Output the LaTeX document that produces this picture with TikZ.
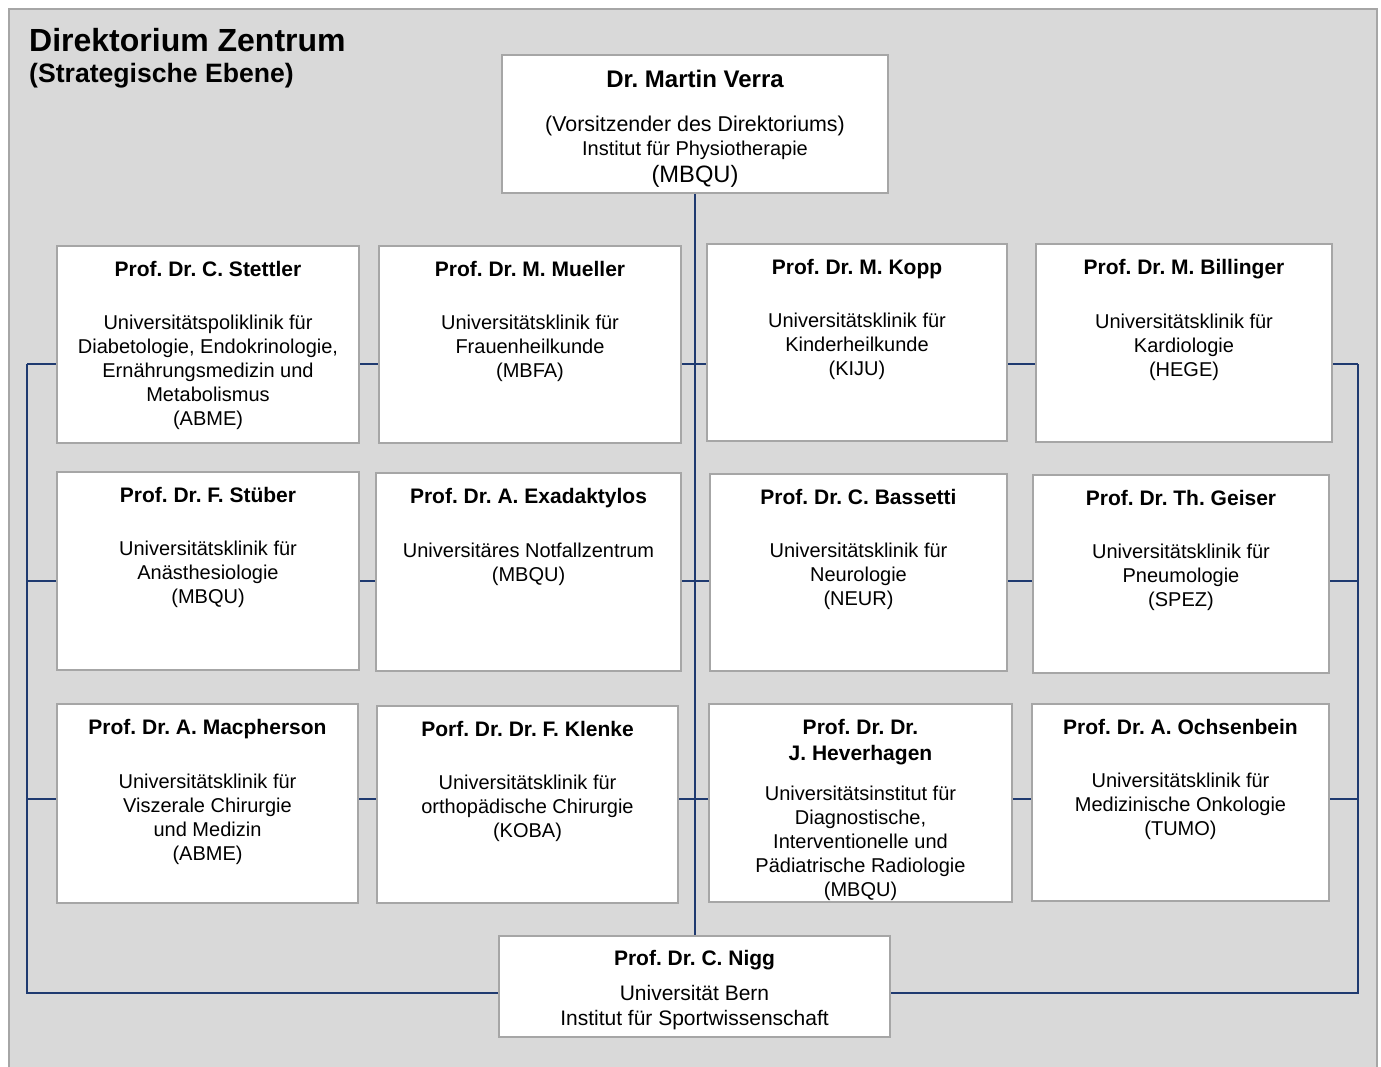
\documentclass[tikz,border=0pt]{standalone}
\usepackage{fontspec}
\setmainfont{Liberation Sans}
\frenchspacing
\definecolor{panelgray}{HTML}{D9D9D9}
\definecolor{framegray}{HTML}{A6A6A6}
\definecolor{linkblue}{HTML}{1F3A70}

\begin{document}
\begin{tikzpicture}[x=1pt,y=1pt,
    box/.style={draw=framegray, line width=2pt, fill=white, anchor=north west, inner sep=0pt},
    head/.style={anchor=base, inner sep=0pt, font=\fontsize{21}{24}\selectfont\bfseries, align=center},
    info/.style={anchor=base, inner sep=0pt, align=center, font=\fontsize{20}{24}\selectfont},
    link/.style={draw=linkblue, line width=1.5pt}]
  \useasboundingbox (0,0) rectangle (1381,-1066);
  % background panel
  \draw[framegray, fill=panelgray, line width=2pt] (9,-9) rectangle (1377,-1080);
  \node[anchor=base west, inner sep=0pt, font=\fontsize{32}{36}\selectfont\bfseries] (title) at (29,-51.5) {Direktorium Zentrum};
  \node[anchor=base west, inner sep=0pt, font=\fontsize{26.6}{30}\selectfont\bfseries] (subtitle) at (29,-82) {(Strategische Ebene)};

  % boxes
  \node[box, minimum width=386pt, minimum height=138pt] (verra) at (501,-54) {};
  \node[box, minimum width=391pt, minimum height=101pt] (nigg) at (498,-935) {};
  \node[box, minimum width=302pt, minimum height=197pt] (stettler) at (56,-245) {};
  \node[box, minimum width=302pt, minimum height=197pt] (mueller) at (378,-245) {};
  \node[box, minimum width=300pt, minimum height=197pt] (kopp) at (706,-243) {};
  \node[box, minimum width=296pt, minimum height=198pt] (billinger) at (1035,-243) {};
  \node[box, minimum width=302pt, minimum height=198pt] (stueber) at (56,-471) {};
  \node[box, minimum width=305pt, minimum height=198pt] (exadaktylos) at (375,-472) {};
  \node[box, minimum width=297pt, minimum height=197pt] (bassetti) at (709,-473) {};
  \node[box, minimum width=296pt, minimum height=198pt] (geiser) at (1032,-474) {};
  \node[box, minimum width=301pt, minimum height=199pt] (macpherson) at (56,-703) {};
  \node[box, minimum width=301pt, minimum height=197pt] (klenke) at (376,-705) {};
  \node[box, minimum width=303pt, minimum height=198pt] (heverhagen) at (708,-703) {};
  \node[box, minimum width=297pt, minimum height=197pt] (ochsenbein) at (1031,-703) {};

  % texts (base = last line)
  \node[head, font=\fontsize{24}{28}\selectfont\bfseries] (verra-name) at ([yshift=-33.5pt]verra.north) {Dr. Martin Verra};
  \node[info, font=\fontsize{21.4}{24}\selectfont] (verra-info) at ([yshift=-128.5pt]verra.north)
    {(Vorsitzender des Direktoriums)\\{\fontsize{20}{24}\selectfont Institut für Physiotherapie}\\[3pt]{\fontsize{23.7}{24}\selectfont (MBQU)}};
  \node[head] (nigg-name) at ([yshift=-30.5pt]nigg.north) {Prof. Dr. C. Nigg};
  \node[info, font=\fontsize{21}{25}\selectfont] (nigg-info) at ([yshift=-90.5pt]nigg.north) {Universität Bern\\Institut für Sportwissenschaft};

  \node[head] (stettler-name) at ([yshift=-31pt]stettler.north) {Prof. Dr. C. Stettler};
  \node[info] (stettler-info) at ([yshift=-180pt]stettler.north) {Universitätspoliklinik für\\Diabetologie, Endokrinologie,\\Ernährungsmedizin und\\Metabolismus\\(ABME)};
  \node[head] (mueller-name) at ([yshift=-31pt]mueller.north) {Prof. Dr. M. Mueller};
  \node[info] (mueller-info) at ([yshift=-132pt]mueller.north) {Universitätsklinik für\\Frauenheilkunde\\(MBFA)};
  \node[head] (kopp-name) at ([yshift=-31pt]kopp.north) {Prof. Dr. M. Kopp};
  \node[info] (kopp-info) at ([yshift=-132pt]kopp.north) {Universitätsklinik für\\Kinderheilkunde\\(KIJU)};
  \node[head] (billinger-name) at ([yshift=-31pt]billinger.north) {Prof. Dr. M. Billinger};
  \node[info] (billinger-info) at ([yshift=-133pt]billinger.north) {Universitätsklinik für\\Kardiologie\\(HEGE)};

  \node[head] (stueber-name) at ([yshift=-31pt]stueber.north) {Prof. Dr. F. Stüber};
  \node[info] (stueber-info) at ([yshift=-132pt]stueber.north) {Universitätsklinik für\\Anästhesiologie\\(MBQU)};
  \node[head] (exadaktylos-name) at ([yshift=-31.5pt]exadaktylos.north) {Prof. Dr. A. Exadaktylos};
  \node[info] (exadaktylos-info) at ([yshift=-109pt]exadaktylos.north) {Universitäres Notfallzentrum\\(MBQU)};
  \node[head] (bassetti-name) at ([yshift=-31pt]bassetti.north) {Prof. Dr. C. Bassetti};
  \node[info] (bassetti-info) at ([yshift=-132pt]bassetti.north) {Universitätsklinik für\\Neurologie\\(NEUR)};
  \node[head] (geiser-name) at ([yshift=-31pt]geiser.north) {Prof. Dr. Th. Geiser};
  \node[info] (geiser-info) at ([yshift=-132pt]geiser.north) {Universitätsklinik für\\Pneumologie\\(SPEZ)};

  \node[head] (macpherson-name) at ([yshift=-31.5pt]macpherson.north) {Prof. Dr. A. Macpherson};
  \node[info] (macpherson-info) at ([yshift=-157pt]macpherson.north) {Universitätsklinik für\\Viszerale Chirurgie\\und Medizin\\(ABME)};
  \node[head] (klenke-name) at ([yshift=-31pt]klenke.north) {Porf. Dr. Dr. F. Klenke};
  \node[info] (klenke-info) at ([yshift=-132pt]klenke.north) {Universitätsklinik für\\orthopädische Chirurgie\\(KOBA)};
  \node[head, font=\fontsize{21}{26}\selectfont\bfseries] (heverhagen-name) at ([yshift=-57pt]heverhagen.north) {Prof. Dr. Dr.\\J. Heverhagen};
  \node[info] (heverhagen-info) at ([yshift=-193pt]heverhagen.north) {Universitätsinstitut für\\Diagnostische,\\Interventionelle und\\Pädiatrische Radiologie\\(MBQU)};
  \node[head] (ochsenbein-name) at ([yshift=-31pt]ochsenbein.north) {Prof. Dr. A. Ochsenbein};
  \node[info] (ochsenbein-info) at ([yshift=-132pt]ochsenbein.north) {Universitätsklinik für\\Medizinische Onkologie\\(TUMO)};

  % connectors
  \coordinate (row1) at (27,-364);
  \coordinate (row2) at (27,-581);
  \coordinate (row3) at (27,-799);
  \coordinate (leftend) at (27,-993);
  \coordinate (rightend) at (1358,-993);
  \coordinate (rightrow1) at (1358,-364);
  \draw[link] (verra.south) -- (verra.south |- nigg.north);
  \draw[link] (row1) -- (leftend) -- (nigg.west |- leftend);
  \draw[link] (rightrow1) -- (rightend) -- (nigg.east |- rightend);

  \draw[link] (row1) -- (stettler.west |- row1);
  \draw[link] (stettler.east |- row1) -- (mueller.west |- row1);
  \draw[link] (mueller.east |- row1) -- (kopp.west |- row1);
  \draw[link] (kopp.east |- row1) -- (billinger.west |- row1);
  \draw[link] (billinger.east |- row1) -- (rightrow1);

  \draw[link] (row2) -- (stueber.west |- row2);
  \draw[link] (stueber.east |- row2) -- (exadaktylos.west |- row2);
  \draw[link] (exadaktylos.east |- row2) -- (bassetti.west |- row2);
  \draw[link] (bassetti.east |- row2) -- (geiser.west |- row2);
  \draw[link] (geiser.east |- row2) -- (rightend |- row2);

  \draw[link] (row3) -- (macpherson.west |- row3);
  \draw[link] (macpherson.east |- row3) -- (klenke.west |- row3);
  \draw[link] (klenke.east |- row3) -- (heverhagen.west |- row3);
  \draw[link] (heverhagen.east |- row3) -- (ochsenbein.west |- row3);
  \draw[link] (ochsenbein.east |- row3) -- (rightend |- row3);
\end{tikzpicture}
\end{document}
